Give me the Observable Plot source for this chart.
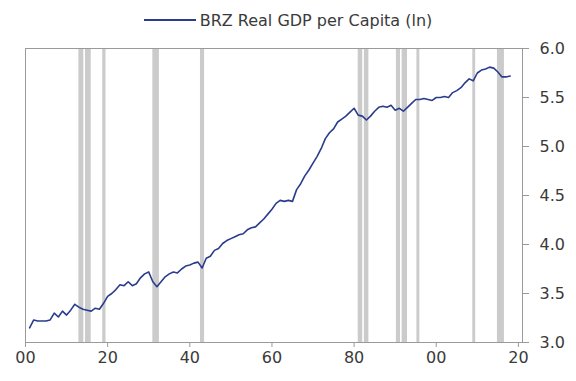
<!DOCTYPE html>
<html>
<head>
<meta charset="utf-8">
<script src="https://cdn.jsdelivr.net/npm/d3@7"></script>
<script src="https://cdn.jsdelivr.net/npm/@observablehq/plot@0.6"></script>
<style>
  html, body { margin: 0; padding: 0; background: #fff; }
  #legend { height: 36px; box-sizing: border-box; padding-top: 4px; display: flex; align-items: center; justify-content: center;
            font-family: "DejaVu Sans", sans-serif; font-size: 16px; color: #3a3a3a; }
  #legend svg { margin-right: 4px; }
</style>
</head>
<body>
<div id="legend"></div>
<div id="chart"></div>
<script>
const seriesName = "BRZ Real GDP per Capita (ln)";
const years = [];
for (let y = 1901; y <= 2018; y++) years.push(y);
const values = [
  3.15, 3.23, 3.22, 3.22, 3.22, 3.23, 3.30, 3.26, 3.32, 3.28,   // 1901-1910
  3.33, 3.39, 3.36, 3.34, 3.33, 3.32, 3.35, 3.34, 3.40, 3.47,   // 1911-1920
  3.50, 3.54, 3.59, 3.58, 3.62, 3.58, 3.60, 3.66, 3.70, 3.72,   // 1921-1930
  3.62, 3.57, 3.62, 3.67, 3.70, 3.72, 3.71, 3.75, 3.78, 3.79,   // 1931-1940
  3.81, 3.82, 3.76, 3.86, 3.88, 3.94, 3.96, 4.01, 4.04, 4.06,   // 1941-1950
  4.08, 4.10, 4.11, 4.15, 4.17, 4.18, 4.22, 4.26, 4.31, 4.36,   // 1951-1960
  4.42, 4.45, 4.44, 4.45, 4.44, 4.56, 4.62, 4.70, 4.76, 4.83,   // 1961-1970
  4.90, 4.98, 5.08, 5.14, 5.18, 5.25, 5.28, 5.31, 5.35, 5.39,   // 1971-1980
  5.32, 5.31, 5.27, 5.31, 5.36, 5.40, 5.41, 5.40, 5.42, 5.37,   // 1981-1990
  5.39, 5.36, 5.40, 5.44, 5.48, 5.48, 5.49, 5.48, 5.47, 5.50,   // 1991-2000
  5.50, 5.51, 5.50, 5.55, 5.57, 5.60, 5.65, 5.69, 5.67, 5.75,   // 2001-2010
  5.78, 5.79, 5.81, 5.80, 5.76, 5.71, 5.71, 5.72                // 2011-2018
];
const recessionStart = [1913.0, 1914.6, 1918.8, 1931.0, 1942.6, 1981.0, 1982.5, 1990.3, 1991.7, 1995.3, 2008.9, 2014.9];
const recessionEnd   = [1914.2, 1916.0, 1919.6, 1932.6, 1943.6, 1982.1, 1983.6, 1991.3, 1993.0, 1996.0, 2009.6, 2016.6];
const xTicks = [1900, 1920, 1940, 1960, 1980, 2000, 2020];
const yTicks = [3.0, 3.5, 4.0, 4.5, 5.0, 5.5, 6.0];

const series = years.map((y, i) => ({year: y, value: values[i]}));
const recessions = recessionStart.map((s, i) => ({start: s, end: recessionEnd[i]}));

const lineColor = "#2a3c8c";

// legend
const legend = document.getElementById("legend");
legend.innerHTML = `<svg width="52" height="10"><line x1="0" y1="5" x2="52" y2="5" stroke="${lineColor}" stroke-width="2"/></svg><span>${seriesName}</span>`;

const chart = Plot.plot({
  width: 576,
  height: 345,
  marginLeft: 25,
  marginRight: 54,
  marginTop: 12,
  marginBottom: 39,
  style: {fontFamily: "DejaVu Sans, sans-serif", fontSize: "16px", color: "#3a3a3a", background: "#fff", overflow: "visible"},
  x: {domain: [1900, 2021]},
  y: {domain: [3, 6]},
  marks: [
    Plot.rect(recessions, {x1: "start", x2: "end", fill: "#cbcbcb"}),
    Plot.frame({stroke: "#9a9a9a", strokeWidth: 1}),
    Plot.line(series, {x: "year", y: "value", stroke: lineColor, strokeWidth: 1.6}),
    Plot.axisX(xTicks, {tickSize: 5, tickPadding: 4, stroke: "#9a9a9a",
      tickFormat: d => String(d % 100).padStart(2, "0"), label: null, fill: "#3a3a3a"}),
    Plot.axisY(yTicks, {anchor: "right", tickSize: 6, tickPadding: 11, stroke: "#9a9a9a",
      tickFormat: d3.format(".1f"), label: null, fill: "#3a3a3a"})
  ]
});
document.getElementById("chart").appendChild(chart);
</script>
</body>
</html>
